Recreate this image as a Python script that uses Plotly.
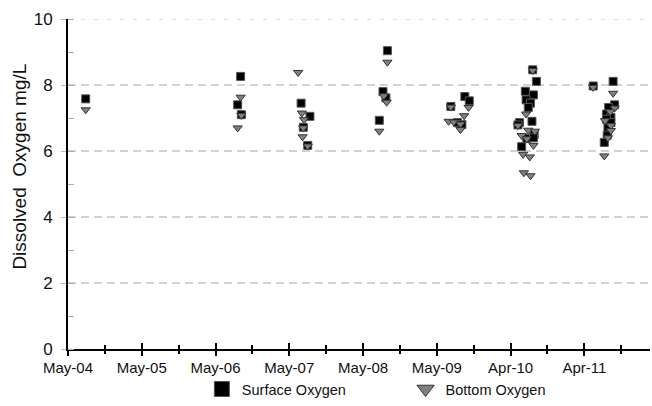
import plotly.graph_objects as go

# Sampling positions on the time axis (1 unit = one labelled survey interval)
tick_positions = [0, 1, 2, 3, 4, 5, 6, 7]
tick_labels = ["May-04", "May-05", "May-06", "May-07", "May-08", "May-09", "Apr-10", "Apr-11"]

# Surface dissolved oxygen (mg/L)
surface_x = [0.24,
             2.34, 2.30, 2.35,
             3.16, 3.28, 3.19, 3.25,
             4.33, 4.27, 4.31, 4.22,
             5.19, 5.38, 5.44, 5.28, 5.34,
             6.30, 6.35, 6.20, 6.31, 6.21, 6.27, 6.24, 6.29, 6.12, 6.10, 6.32, 6.22, 6.31, 6.15,
             7.12, 7.39, 7.41, 7.33, 7.30, 7.36, 7.30, 7.36, 7.32, 7.31, 7.27]
surface_do = [7.58,
              8.26, 7.40, 7.10,
              7.45, 7.05, 6.72, 6.17,
              9.04, 7.80, 7.61, 6.93,
              7.35, 7.65, 7.52, 6.86, 6.80,
              8.46, 8.11, 7.81, 7.70, 7.55, 7.45, 7.32, 6.90, 6.86, 6.79, 6.50, 6.38, 6.40, 6.13,
              7.97, 8.11, 7.40, 7.32, 7.12, 7.02, 6.96, 6.86, 6.70, 6.48, 6.26]

# Bottom dissolved oxygen (mg/L)
bottom_x = [0.24,
            2.34, 2.35, 2.30,
            3.12, 3.17, 3.20, 3.19, 3.18, 3.25,
            4.33, 4.28, 4.32, 4.22,
            5.19, 5.43, 5.37, 5.16, 5.23, 5.32, 5.32,
            6.30, 6.21, 6.10, 6.24, 6.33, 6.15, 6.22, 6.31, 6.17, 6.26, 6.18, 6.27,
            7.12, 7.39, 7.41, 7.35, 7.28, 7.36, 7.36, 7.32, 7.27]
bottom_do = [7.25,
             7.63, 7.08, 6.70,
             8.38, 7.15, 6.95, 6.70, 6.43, 6.15,
             8.69, 7.67, 7.48, 6.60,
             7.33, 7.32, 7.07, 6.90, 6.88, 6.82, 6.65,
             8.44, 7.12, 6.77, 6.63, 6.60, 6.47, 6.37, 6.17, 5.90, 5.82, 5.34, 5.25,
             7.93, 7.75, 7.30, 7.19, 6.92, 6.77, 6.62, 6.40, 5.85]

y_grid = [2, 4, 6, 8]
y_top = 10

FONT = "Liberation Sans, Arial, sans-serif"
INK = "#111111"

fig = go.Figure()

fig.add_trace(go.Scatter(
    x=surface_x, y=surface_do, mode="markers", name="Surface Oxygen", showlegend=False,
    marker=dict(symbol="square", size=8, color="black", line=dict(color="#555555", width=1)),
))
fig.add_trace(go.Scatter(
    x=bottom_x, y=bottom_do, mode="markers", name="Bottom Oxygen", showlegend=False,
    marker=dict(symbol="triangle-down", size=8, color="#808080", line=dict(color="#333333", width=1)),
))

# Larger legend symbols, one legend box per series
fig.add_trace(go.Scatter(
    x=[None], y=[None], mode="markers", name="Surface Oxygen", legend="legend",
    marker=dict(symbol="square", size=15, color="black", line=dict(color="#555555", width=1)),
))
fig.add_trace(go.Scatter(
    x=[None], y=[None], mode="markers", name="Bottom Oxygen", legend="legend2",
    marker=dict(symbol="triangle-down", size=15, color="#808080", line=dict(color="#333333", width=1)),
))

shapes = []
for g in y_grid:
    shapes.append(dict(type="line", xref="paper", yref="y", x0=0, x1=1, y0=g, y1=g,
                       line=dict(color="#c4c4c4", width=1.3, dash="8px,5px"), layer="below"))
shapes.append(dict(type="line", xref="paper", yref="y", x0=0, x1=1, y0=y_top, y1=y_top,
                   line=dict(color="#cfcfcf", width=1.3, dash="4px,9px"), layer="below"))

legend_style = dict(
    orientation="h", y=-0.118, yanchor="middle", xanchor="left",
    font=dict(size=14.5, family=FONT, color=INK),
    bgcolor="rgba(0,0,0,0)",
)

fig.update_layout(
    width=652, height=406,
    margin=dict(l=68, r=2, t=19, b=56),
    paper_bgcolor="white", plot_bgcolor="white",
    font=dict(family=FONT, color=INK),
    shapes=shapes,
    xaxis=dict(
        range=[0, 7.89], tickvals=tick_positions, ticktext=tick_labels,
        showgrid=False, zeroline=False,
        showline=True, linecolor="black", linewidth=2,
        ticks="outside", ticklen=5, tickwidth=2, tickcolor="black",
        minor=dict(dtick=0.5, tick0=0, ticks="outside", ticklen=3, tickwidth=2, tickcolor="black"),
        tickfont=dict(size=15, color=INK, family=FONT),
        ticklabelstandoff=-1,
    ),
    xaxis2=dict(
        overlaying="x", matches="x", anchor="y", side="bottom",
        range=[0, 7.89], tickvals=tick_positions, showticklabels=False,
        showgrid=False, zeroline=False, showline=False,
        ticks="inside", ticklen=6, tickwidth=2, tickcolor="black",
        minor=dict(dtick=0.5, tick0=0, ticks="inside", ticklen=4, tickwidth=2, tickcolor="black"),
    ),
    yaxis=dict(
        range=[0, 10], tickvals=[0, 2, 4, 6, 8, 10],
        showgrid=False, zeroline=False,
        showline=True, linecolor="black", linewidth=2,
        ticks="outside", ticklen=5, tickwidth=1, tickcolor="#bbbbbb",
        minor=dict(dtick=1, tick0=0, ticks="inside", ticklen=6, tickwidth=1, tickcolor="#aaaaaa"),
        tickfont=dict(size=17, color=INK, family=FONT),
        ticklabelstandoff=5,
    ),
    legend=dict(x=0.23, **legend_style),
    legend2=dict(x=0.58, **legend_style),
    annotations=[dict(
        text="Dissolved\u00a0 Oxygen mg/L", textangle=-90,
        xref="paper", yref="paper", x=-0.084, y=0.553,
        xanchor="center", yanchor="middle", showarrow=False,
        font=dict(size=19, family=FONT, color=INK),
    )],
)

# Bind a dummy trace to the overlay axis so its ticks are drawn
fig.add_trace(go.Scatter(x=[None], y=[None], xaxis="x2", yaxis="y", showlegend=False, hoverinfo="skip"))

fig.write_html("out.html")
